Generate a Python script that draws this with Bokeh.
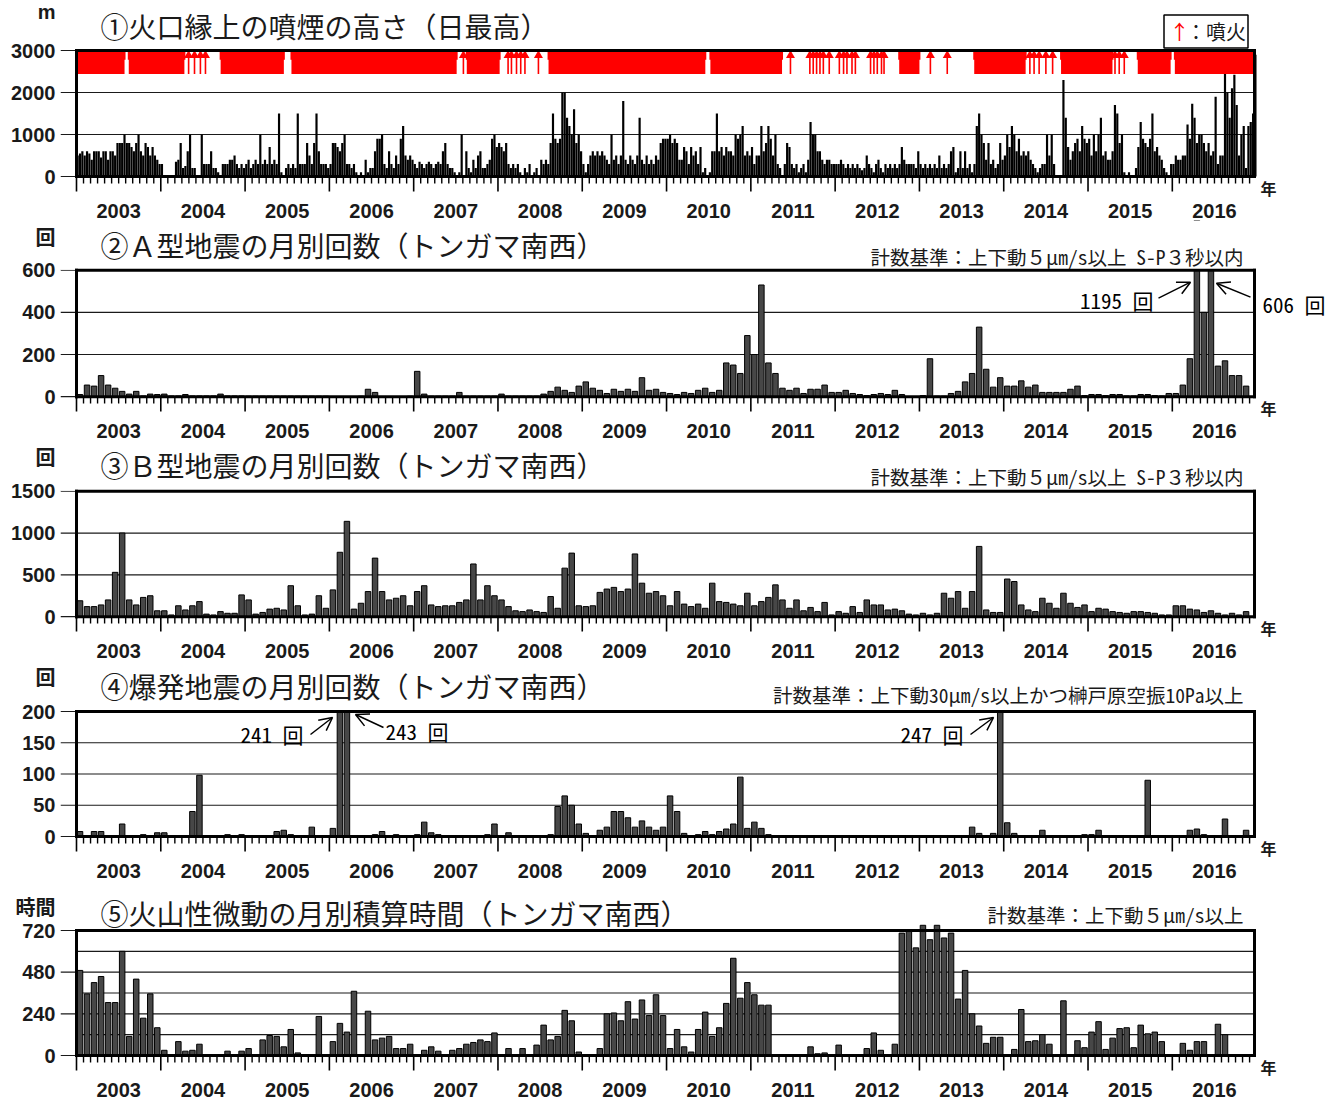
from bokeh.plotting import figure
from bokeh.models import Range1d, FixedTicker, LinearAxis, Label, Arrow, OpenHead
from bokeh.layouts import column
from bokeh.embed import file_html
from bokeh.resources import INLINE

# ---------------- data ----------------
year_list = list(range(2003, 2017))
year_text = [str(y) for y in year_list]

# panel 1: max plume height above crater rim, per ten-day period (m)
h2003 = [500,550,600, 500,600,550, 400,600,600, 600,450,600, 600,400,600, 600,500,800, 800,800,1000, 800,800,700, 600,800,1000, 600,500,800, 700,500,700, 500,400,300]
h2004 = [300,0,0, 0,0,0, 350,400,800, 200,250,600, 1000,200,200, 0,0,1000, 300,300,300, 600,200,200, 100,0,300, 300,300,400, 400,500,300, 200,300,200]
h2005 = [300,400,200, 300,400,300, 1000,300,400, 300,700,300, 400,300,1500, 100,0,200, 300,200,300, 200,1500,300, 300,300,800, 500,300,800, 1500,600,300, 300,300,200]
h2006 = [300,800,800, 700,600,800, 1000,300,300, 200,300,100, 0,100,0, 400,100,200, 200,600,900, 900,1000,300, 200,600,300, 200,500,300, 900,1200,500, 400,500,400]
h2007 = [300,200,350, 300,200,300, 350,300,200, 300,350,300, 600,800,300, 200,200,100, 0,100,1000, 0,600,200, 100,400,200, 500,600,200, 200,300,400, 900,1000,700]
h2008 = [800,700,600, 800,300,200, 300,200,300, 100,0,200, 100,300,0, 100,200,0, 400,300,400, 300,800,1500, 900,800,900, 2000,2000,1400, 1200,1000,1600, 800,1000,600]
h2009 = [300,100,300, 500,600,500, 600,500,600, 500,400,300, 1000,400,500, 300,500,1800, 400,300,500, 400,300,500, 1400,400,300, 500,300,400, 300,500,400, 800,900,900]
h2010 = [900,1000,800, 900,800,400, 400,700,600, 300,700,500, 600,300,700, 100,200,0, 100,600,600, 1500,600,700, 500,700,600, 600,500,1000, 900,1000,1200, 500,600,500]
h2011 = [700,300,500, 500,1200,600, 800,1200,900, 500,1000,300, 200,0,300, 800,700,300, 200,300,100, 200,300,100, 400,1300,1000, 1000,600,600, 400,300,400, 400,300,300]
h2012 = [300,300,400, 300,200,300, 200,300,200, 300,200,150, 200,500,300, 200,100,300, 400,200,100, 300,200,300, 200,300,200, 300,700,400, 300,300,300, 300,200,600]
h2013 = [300,200,300, 200,300,200, 300,200,500, 200,300,200, 300,600,700, 100,200,600, 200,600,200, 300,100,300, 1200,1500,1000, 800,400,800, 300,400,200, 300,800,400]
h2014 = [500,1000,700, 1200,1000,600, 900,500,600, 500,600,400, 300,200,100, 200,300,300, 1000,500,1000, 300,0,0, 0,2300,1400, 700,400,600, 800,900,600, 1200,900,800]
h2015 = [900,500,1000, 600,1000,1400, 500,600,400, 400,600,1700, 1500,800,1000, 100,0,100, 0,0,200, 700,1300,900, 800,700,900, 1500,600,700, 500,400,200, 100,0,300]
h2016 = [300,500,400, 400,500,500, 1240,900,1730, 1400,800,1000, 1000,800,600, 800,500,600, 1900,300,500, 500,2460,2000, 1400,2100,2420, 1700,500,1000, 1200,200,1200, 1300,1500,2900]

# panel 1: eruptions (dense periods and single events, decimal years)
erupt_start = [2003.00, 2003.62, 2004.71, 2005.55, 2007.63, 2008.60, 2010.52, 2012.76, 2013.65, 2014.68, 2015.59, 2016.03]
erupt_end   = [2003.57, 2004.28, 2005.46, 2007.51, 2008.02, 2010.46, 2011.37, 2013.00, 2014.26, 2015.29, 2015.98, 2016.97]
erupt_single = [2004.33, 2004.40, 2004.47, 2004.53, 2007.59, 2008.12, 2008.16, 2008.22, 2008.27, 2008.32,
                2008.48, 2011.47, 2011.70, 2011.74, 2011.78, 2011.82, 2011.86, 2011.93, 2012.05, 2012.10,
                2012.14, 2012.20, 2012.24, 2012.42, 2012.46, 2012.50, 2012.55, 2012.58, 2013.13, 2013.33,
                2014.31, 2014.36, 2014.42, 2014.50, 2014.58, 2015.32, 2015.37, 2015.43]

# panel 2: A-type earthquakes per month
a2003 = [10,55,50,100,55,40,25,12,25,3,12,10]
a2004 = [12,3,3,10,3,3,3,3,12,3,3,3]
a2005 = [2,2,2,2,2,2,2,2,2,2,2,2]
a2006 = [0,0,0,0,2,35,20,0,0,0,0,2]
a2007 = [120,12,2,2,2,2,20,2,2,2,2,2]
a2008 = [12,2,2,2,2,2,12,25,45,30,20,50]
a2009 = [70,40,30,15,35,25,35,25,90,30,35,20]
a2010 = [15,10,20,15,30,40,20,30,160,150,110,290]
a2011 = [200,530,160,110,40,30,40,15,35,35,55,20]
a2012 = [20,30,15,10,5,10,15,10,30,10,0,0]
a2013 = [5,180,2,2,15,25,70,110,330,130,45,90]
a2014 = [50,50,75,45,55,20,20,20,20,35,50,5]
a2015 = [10,10,5,10,10,3,3,10,10,5,3,15]
a2016 = [15,55,180,1195,400,606,145,170,100,100,50]

# panel 3: B-type earthquakes per month
b2003 = [190,120,120,140,200,530,1000,200,140,230,250,70]
b2004 = [70,20,130,80,130,180,30,20,60,40,40,260]
b2005 = [200,30,50,90,100,80,370,130,20,30,250,100]
b2006 = [320,770,1140,90,160,300,700,300,200,220,250,130]
b2007 = [300,370,140,120,130,130,170,200,630,200,370,250]
b2008 = [200,120,70,60,80,60,50,240,100,580,760,130]
b2009 = [120,130,290,330,350,300,330,750,400,280,300,250]
b2010 = [130,300,150,120,150,100,400,180,170,150,130,280]
b2011 = [130,180,230,380,200,100,200,70,110,60,170,20]
b2012 = [60,40,120,50,200,140,140,80,90,70,30,20]
b2013 = [40,20,40,280,220,300,100,300,840,80,50,50]
b2014 = [450,420,140,80,60,220,160,100,280,160,110,140]
b2015 = [60,100,90,60,50,40,60,60,50,40,20,20]
b2016 = [130,130,90,80,50,70,40,20,40,20,60]

# panel 4: explosion earthquakes per month
e2003 = [8,0,8,8,0,0,20,0,0,3,0,6]
e2004 = [6,0,0,0,40,98,0,0,0,3,0,3]
e2005 = [0,0,0,0,8,10,3,0,0,15,0,0]
e2006 = [13,241,243,0,0,0,3,8,0,3,0,0]
e2007 = [3,23,6,3,0,0,0,0,0,0,3,20]
e2008 = [0,6,0,0,0,0,0,3,48,65,50,20]
e2009 = [5,0,10,15,40,40,30,15,25,15,10,15]
e2010 = [65,40,5,0,3,8,3,8,12,20,95,13]
e2011 = [23,13,3,0,0,0,0,0,0,0,0,0]
e2012 = [0,0,0,0,0,0,0,0,0,0,0,0]
e2013 = [0,0,0,0,0,0,0,15,5,0,5,247]
e2014 = [22,5,0,0,0,10,0,0,0,0,0,3]
e2015 = [3,10,0,0,0,0,0,0,90,0,0,0]
e2016 = [0,0,10,12,3,0,0,28,0,0,10]

# panel 5: volcanic tremor, monthly total hours
t2003 = [490,355,420,455,305,305,600,110,440,215,355,160]
t2004 = [30,5,80,25,30,65,3,3,3,25,5,25]
t2005 = [40,5,90,115,110,50,150,15,3,3,225,5]
t2006 = [80,185,135,370,5,255,90,100,110,40,40,65]
t2007 = [5,30,50,25,5,30,40,65,75,90,80,130]
t2008 = [5,40,5,40,5,60,175,90,110,260,200,20]
t2009 = [5,5,40,240,245,200,310,210,320,230,350,230]
t2010 = [40,150,50,20,150,250,110,160,300,560,330,420]
t2011 = [350,290,290,5,5,5,5,5,50,10,15,3]
t2012 = [60,0,0,0,40,130,30,0,65,705,716,620]
t2013 = [750,667,750,677,705,325,490,240,170,70,105,105]
t2014 = [5,35,265,80,85,120,65,5,315,5,85,45]
t2015 = [135,195,35,100,155,160,45,175,125,135,80,0]
t2016 = [0,70,30,80,80,0,180,120,0,0,0]

smoke = h2003+h2004+h2005+h2006+h2007+h2008+h2009+h2010+h2011+h2012+h2013+h2014+h2015+h2016
a_type = a2003+a2004+a2005+a2006+a2007+a2008+a2009+a2010+a2011+a2012+a2013+a2014+a2015+a2016
b_type = b2003+b2004+b2005+b2006+b2007+b2008+b2009+b2010+b2011+b2012+b2013+b2014+b2015+b2016
expl = e2003+e2004+e2005+e2006+e2007+e2008+e2009+e2010+e2011+e2012+e2013+e2014+e2015+e2016
tremor = t2003+t2004+t2005+t2006+t2007+t2008+t2009+t2010+t2011+t2012+t2013+t2014+t2015+t2016

# ---------------- layout helpers (x in months since Jan 2003) ----------------
XM1 = 167.7
FL, FR = 76, 1254
FIG_W = 1330
LEFT = 60
JP = "Noto Sans CJK JP"
JPM = "Noto Sans Mono CJK JP, Noto Sans CJK JP"
INK = "#1a1a1a"


def dx(px):
    return (px - FL) / (FR - FL) * XM1


def to_m(y):
    return (y - 2003.0) * 12.0


def make_panel(fig_top, T, B, ymax, yticks, grids, unit_text, unit_py, cover=True, height=220):
    fb = B + 27
    bb = fig_top + height - fb

    def dy(py):
        return (B - py) / (B - T) * ymax

    p = figure(width=FIG_W, height=height, x_range=Range1d(dx(LEFT), dx(FIG_W)),
               y_range=Range1d(dy(fb), dy(fig_top)),
               min_border_left=LEFT, min_border_right=0, min_border_top=0, min_border_bottom=bb,
               x_axis_type=None, y_axis_type=None, title=None,
               output_backend="svg", toolbar_location=None)
    p.outline_line_color = None
    p.background_fill_color = "white"
    p.border_fill_color = "white"

    # year labels (real axis)
    mids = [12 * i + 6 for i in range(len(year_list))]
    xa = LinearAxis(ticker=FixedTicker(ticks=mids),
                    major_label_overrides={m: s for m, s in zip(mids, year_text)},
                    major_tick_out=0, major_tick_in=0, minor_tick_out=0, minor_tick_in=0,
                    axis_line_color=None, major_label_text_font="Liberation Sans",
                    major_label_text_font_style="bold", major_label_text_font_size="20px",
                    major_label_text_color=INK, major_label_standoff=0)
    p.add_layout(xa, "below")
    # value labels + unit (real axis)
    yu = int(round(dy(unit_py)))
    ya = LinearAxis(ticker=FixedTicker(ticks=yticks + [yu]),
                    major_label_overrides={yu: unit_text},
                    major_tick_out=0, major_tick_in=0, minor_tick_out=0, minor_tick_in=0,
                    axis_line_color=None, major_label_text_font="Liberation Sans, Noto Sans CJK JP",
                    major_label_text_font_style="bold", major_label_text_font_size="20px",
                    major_label_text_color=INK, major_label_standoff=5)
    p.add_layout(ya, "left")

    # tick marks and grid
    p.segment(x0=[dx(LEFT)] * len(yticks), y0=yticks, x1=[0] * len(yticks), y1=yticks,
              line_color=INK, line_width=1.2)
    p.segment(x0=[0] * len(grids), y0=grids, x1=[XM1] * len(grids), y1=grids,
              line_color=INK, line_width=1.2)
    yb = [12 * i for i in range(len(year_list))]
    p.segment(x0=yb, y0=[0] * len(yb), x1=yb, y1=[dy(B + 15)] * len(yb), line_color="black", line_width=1.6)
    mt = [k for k in range(168) if k % 12 != 0]
    p.segment(x0=mt, y0=[0] * len(mt), x1=mt, y1=[dy(B + 7)] * len(mt), line_color="black", line_width=1.4)

    def text(px, py, s, size, align="left", color=INK, font=JP, style="normal", **kw):
        p.add_layout(Label(x=dx(px), y=dy(py), text=s, text_font=font, text_font_size=f"{size}px",
                           text_align=align, text_baseline="middle", text_color=color,
                           text_font_style=style, **kw))

    def finish():
        if cover:
            p.quad(left=[dx(LEFT)], right=[dx(FIG_W)], bottom=[ymax * 1.004], top=[dy(fig_top)],
                   fill_color="white", line_color=None)
        p.segment(x0=[0, 0, 0, XM1], y0=[ymax, 0, 0, 0], x1=[XM1, XM1, 0, XM1], y1=[ymax, 0, ymax, ymax],
                  line_color="black", line_width=3, line_cap="square")

    text(1268, B + 11, "年", 16, align="center", style="bold")
    p._dy = dy
    p._text = text
    p._finish = finish
    return p


BAR = dict(fill_color="#474747", line_color="black", line_width=1)
MW = 0.78


def month_x(n):
    return [i + 0.5 for i in range(n)]


def add_arrow(p, xs, ys, xe, ye):
    p.add_layout(Arrow(end=OpenHead(size=13, line_width=1.5, line_color="black"),
                       x_start=dx(xs), y_start=p._dy(ys), x_end=dx(xe), y_end=p._dy(ye),
                       line_width=1.5, line_color="black"))


TS = 28   # title size
NS = 19.5  # note size

# ---------- panel 1 ----------
p1 = make_panel(0, 50, 176, 3000, [0, 1000, 2000, 3000], [1000, 2000], "m", 12)
dek_x = [(i + 0.5) / 3 for i in range(len(smoke))]
p1.vbar(x=dek_x, top=smoke, width=0.93 / 3, fill_color="black", line_color=None)
es = [to_m(v) for v in erupt_start]
ee = [to_m(v) for v in erupt_end]
e1 = [to_m(v) for v in erupt_single]
p1.quad(left=es, right=ee, bottom=2440, top=2850, fill_color="#ff0000", line_color=None)
p1.quad(left=[v - 0.14 for v in es], right=[v + 0.14 for v in ee], bottom=2780, top=2975,
        fill_color="#ff0000", line_color=None)
p1.segment(x0=e1, y0=[2440] * len(e1), x1=e1, y1=[2850] * len(e1), line_color="#ff0000", line_width=1.6)
p1.scatter(x=e1, y=[2885] * len(e1), marker="triangle", size=9, fill_color="#ff0000", line_color=None)
p1._finish()
p1._text(100, 25, "①火口縁上の噴煙の高さ（日最高）", TS)
p1.add_layout(Label(x=dx(1205.5), y=p1._dy(31), text="\u3000：噴火", text_font=JP, text_font_size="20px",
                    text_align="center", text_baseline="middle", text_color=INK,
                    border_line_color="black", border_line_width=1.5, background_fill_color="white",
                    padding=2))
p1._text(1179, 31, "↑", 20, align="center", color="#ff0000")

# ---------- panel 2 ----------
p2 = make_panel(220, 270, 397, 600, [0, 200, 400, 600], [200, 400], "回", 238)
p2.vbar(x=month_x(len(a_type)), top=a_type, width=MW, **BAR)
p2._finish()
p2._text(100, 245, "②Ａ型地震の月別回数（トンガマ南西）", TS)
p2._text(1243, 256, "計数基準：上下動５μm/s以上 S-P３秒以内", NS, align="right", font=JPM)
p2._text(1153, 300, "1195 回", 21, align="right", color="black", font=JPM)
p2._text(1262, 304, "606 回", 21, align="left", color="black", font=JPM)
add_arrow(p2, 1158, 298, 1190, 282)
add_arrow(p2, 1250, 297, 1216, 283)

# ---------- panel 3 ----------
p3 = make_panel(440, 491, 617, 1500, [0, 500, 1000, 1500], [500, 1000], "回", 458)
p3.vbar(x=month_x(len(b_type)), top=b_type, width=MW, **BAR)
p3._finish()
p3._text(100, 465, "③Ｂ型地震の月別回数（トンガマ南西）", TS)
p3._text(1243, 476, "計数基準：上下動５μm/s以上 S-P３秒以内", NS, align="right", font=JPM)

# ---------- panel 4 ----------
p4 = make_panel(660, 711, 836, 200, [0, 50, 100, 150, 200], [50, 100, 150], "回", 678)
p4.vbar(x=month_x(len(expl)), top=expl, width=MW, **BAR)
p4._finish()
p4._text(100, 685, "④爆発地震の月別回数（トンガマ南西）", TS)
p4._text(1243, 694, "計数基準：上下動30μm/s以上かつ榊戸原空振10Pa以上", NS, align="right", font=JPM)
p4._text(303, 733, "241 回", 21, align="right", color="black", font=JPM)
p4._text(385, 730, "243 回", 21, align="left", color="black", font=JPM)
p4._text(963, 733, "247 回", 21, align="right", color="black", font=JPM)
add_arrow(p4, 310, 734, 332, 717)
add_arrow(p4, 383, 727, 355, 714)
add_arrow(p4, 970, 734, 993, 717)

# ---------- panel 5 ----------
p5 = make_panel(880, 930, 1055, 720, [0, 240, 480, 720], [120, 240, 360, 480, 600], "時間", 907,
                cover=False)
p5.vbar(x=month_x(len(tremor)), top=tremor, width=MW, **BAR)
p5._finish()
p5._text(100, 912, "⑤火山性微動の月別積算時間（トンガマ南西）", TS)
p5._text(1243, 914, "計数基準：上下動５μm/s以上", NS, align="right", font=JPM)

layout = column(p1, p2, p3, p4, p5, spacing=0)
open("out.html", "w").write(file_html(layout, INLINE))
